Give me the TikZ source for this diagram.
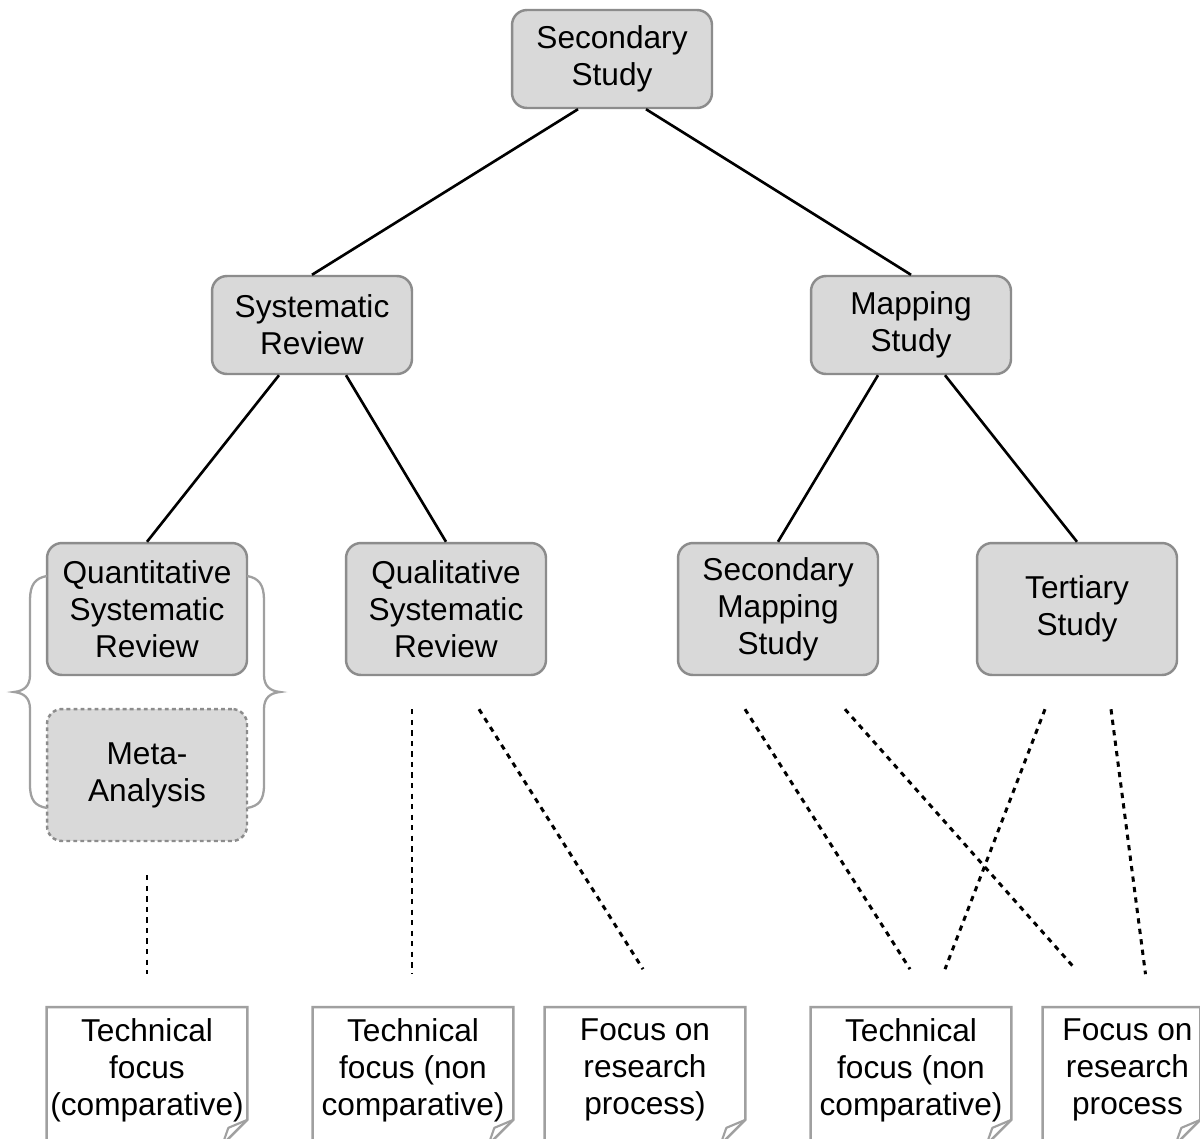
\documentclass[tikz,border=0pt]{standalone}
\usepackage{fontspec}
\setmainfont{Liberation Sans}
\usetikzlibrary{calc}
\definecolor{boxfill}{HTML}{D9D9D9}
\definecolor{boxline}{HTML}{8C8C8C}
\definecolor{noteline}{HTML}{A0A0A0}
\newcommand\drawnote[1]{%
  \draw[noteline, line width=1.4pt, fill=white]
    (#1.north west) -- (#1.north east) -- ($(#1.south east)+(0,-25)$)
    -- ($(#1.south east)+(-25,0)$) -- (#1.south west) -- cycle;
  \draw[noteline, line width=1.2pt, line join=round]
    ($(#1.south east)+(-25,0)$) -- ($(#1.south east)+(-19,-17)$) -- ($(#1.south east)+(0,-25)$);
}
\begin{document}
\begin{tikzpicture}[x=0.02cm, y=-0.02cm,
  every node/.style={font=\fontsize{18pt}{21pt}\selectfont, align=center, inner sep=0pt},
  cat/.style={draw=boxline, fill=boxfill, line width=1.4pt, rounded corners=0.3cm,
    minimum width=4cm, minimum height=1.96cm},
  cattall/.style={cat, minimum height=2.64cm},
  metabox/.style={cattall, dashed, dash pattern=on 2.2pt off 1.8pt},
  notebox/.style={minimum width=4cm, minimum height=2.74cm},
  notetxt/.style={},
  link/.style={line width=1.5pt, black},
  dlink/.style={line width=1.7pt, black, dash pattern=on 3pt off 3pt},
  bracestyle/.style={draw=noteline, line width=1.3pt}
]
\clip (0,0) rectangle (1200,1139);
\fill[white] (0,0) rectangle (1200,1139);

% main boxes
\node[cat] (ss) at (612,59) {Secondary\\Study};
\node[cat] (sr) at (312,325) {Systematic\\Review};
\node[cat] (ms) at (911,325) {Mapping\\Study};
\node[cattall] (qsr) at (147,609) {Quantitative\\Systematic\\Review};
\node[cattall] (qual) at (446,609) {Qualitative\\Systematic\\Review};
\node[cattall] (sms) at (778,609) {Secondary\\Mapping\\Study};
\node[cattall] (ts) at (1077,609) {Tertiary\\Study};
\node[metabox] (meta) at (147,775) {Meta-\\Analysis};

% braces
\draw[bracestyle] (47,576) .. controls (35,578) and (30,585) .. (30,600) -- (30,675)
  .. controls (30,686) and (24,691) .. (14,692) .. controls (24,693) and (30,698) .. (30,709)
  -- (30,785) .. controls (30,800) and (35,806) .. (47,808);
\draw[bracestyle] (247,576) .. controls (259,578) and (264,585) .. (264,600) -- (264,675)
  .. controls (264,686) and (270,691) .. (280,692) .. controls (270,693) and (264,698) .. (264,709)
  -- (264,785) .. controls (264,800) and (259,806) .. (247,808);

% notes
\node[notebox] (n1) at (147,1076) {};
\node[notebox] (n2) at (413,1076) {};
\node[notebox] (n3) at (645,1076) {};
\node[notebox] (n4) at (911,1076) {};
\node[notebox, minimum width=3.14cm] (n5) at (1121.5,1076) {};
\drawnote{n1}
\drawnote{n2}
\drawnote{n3}
\drawnote{n4}
\drawnote{n5}
\node[notetxt] (t1) at ($(n1.center)+(0,-6)$) {Technical\\focus\\(comparative)};
\node[notetxt] (t2) at ($(n2.center)+(0,-6)$) {Technical\\focus (non\\comparative)};
\node[notetxt] (t3) at ($(n3.center)+(0,-6)$) {Focus on\\research\\process)};
\node[notetxt] (t4) at ($(n4.center)+(0,-6)$) {Technical\\focus (non\\comparative)};
\node[notetxt] (t5) at ($(n5.center)+(6,-6)$) {Focus on\\research\\process};

% solid links
\draw[link] ($(ss.south)+(-34,0)$) -- (sr.north);
\draw[link] ($(ss.south)+(34,0)$) -- (ms.north);
\draw[link] ($(sr.south)+(-33,0)$) -- (qsr.north);
\draw[link] ($(sr.south)+(34,0)$) -- (qual.north);
\draw[link] ($(ms.south)+(-33,0)$) -- (sms.north);
\draw[link] ($(ms.south)+(34,0)$) -- (ts.north);

% dashed links
\draw[dlink] ($(meta.south)+(0,33)$) -- ($(n1.north)+(0,-33)$);
\draw[dlink] ($(qual.south)+(-34,33)$) -- ($(n2.north)+(-1,-33)$);
\draw[dlink] ($(qual.south)+(33,33)$) -- ($(n3.north)+(-2,-38)$);
\draw[dlink] ($(sms.south)+(-33,33)$) -- ($(n4.north)+(-1,-38)$);
\draw[dlink] ($(sms.south)+(67,33)$) -- ($(n5.north)+(-46,-38)$);
\draw[dlink] ($(ts.south)+(-32,33)$) -- ($(n4.north)+(34,-38)$);
\draw[dlink] ($(ts.south)+(34,33)$) -- ($(n5.north)+(24,-33)$);
\end{tikzpicture}
\end{document}
